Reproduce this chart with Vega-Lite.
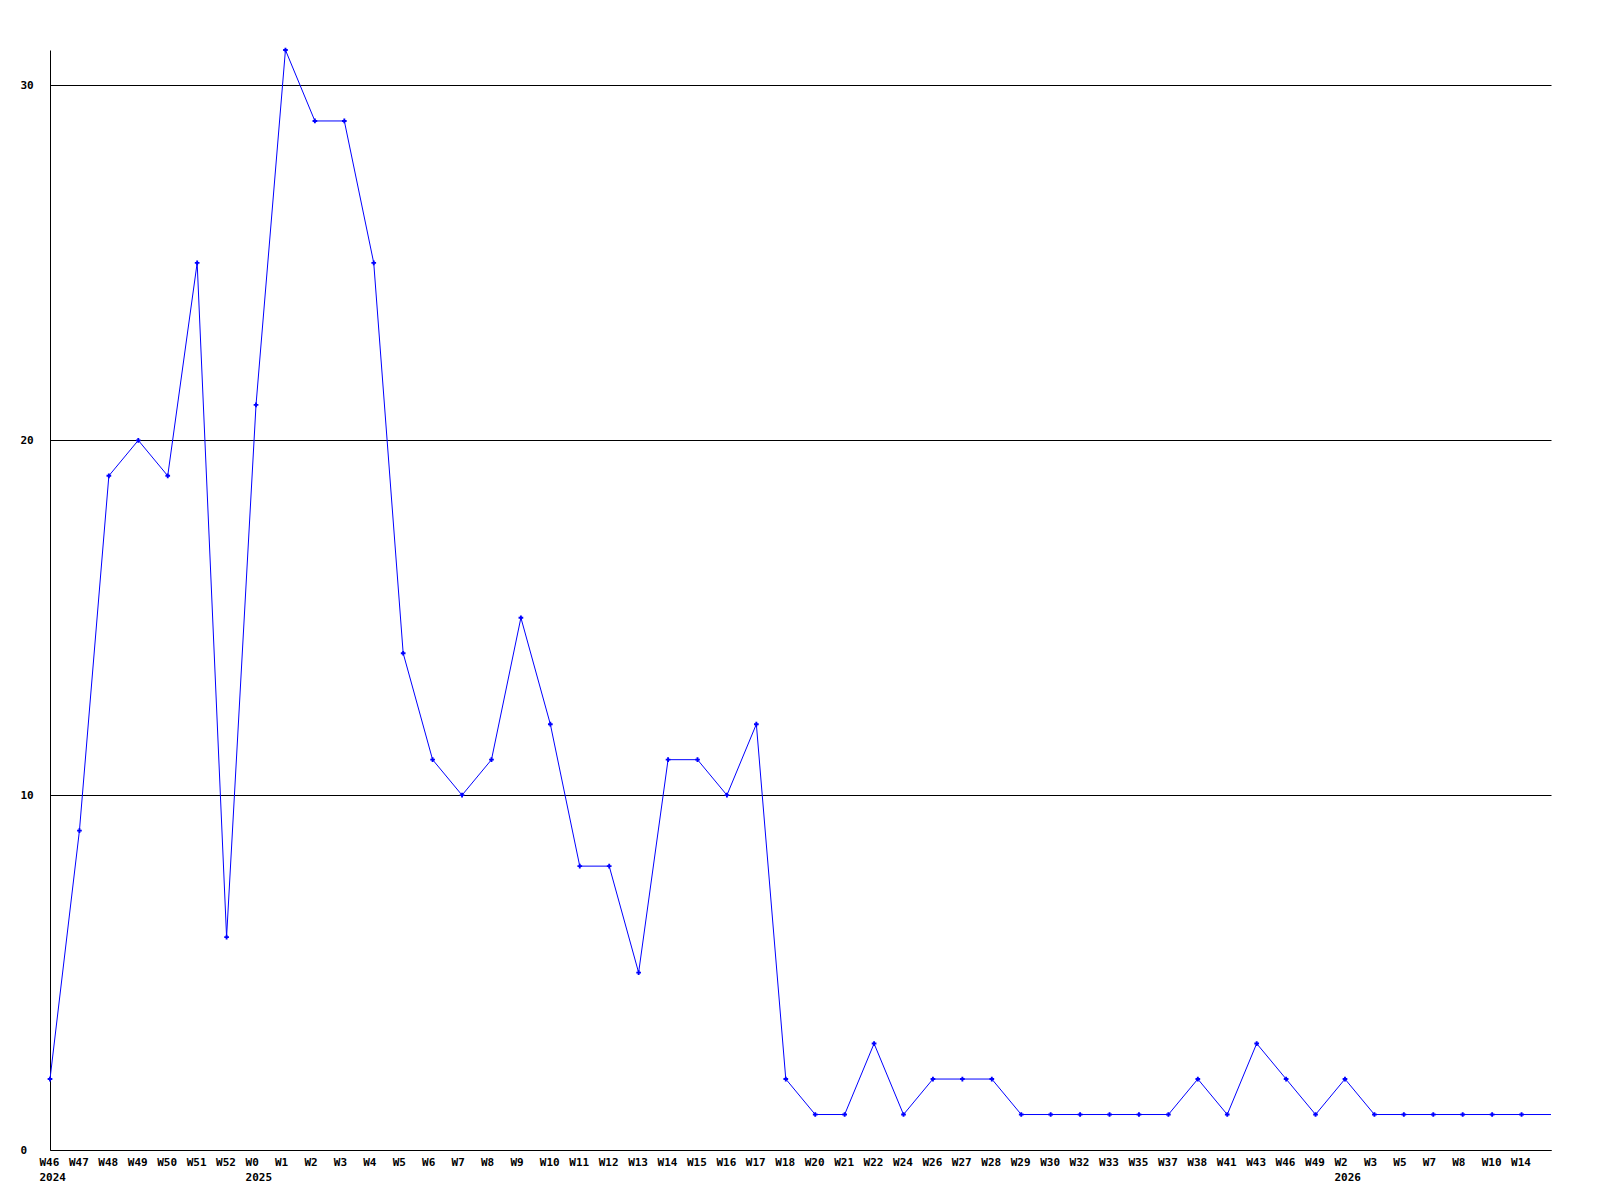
{
  "$schema": "https://vega.github.io/schema/vega-lite/v6.json",
  "width": 1501,
  "height": 1100,
  "padding": {"left": 50, "top": 50, "right": 49, "bottom": 50},
  "autosize": {"type": "none"},
  "background": "white",
  "config": {
    "view": {"stroke": null},
    "axis": {
      "labelFont": "DejaVu Sans Mono",
      "labelFontWeight": "bold",
      "labelFontSize": 11,
      "labelColor": "black",
      "domainColor": "black",
      "domainWidth": 1,
      "ticks": false,
      "tickSize": 0,
      "title": null
    }
  },
  "data": {
    "values": [
      {"i": 0, "week": "W46", "n": 2},
      {"i": 1, "week": "W47", "n": 9},
      {"i": 2, "week": "W48", "n": 19},
      {"i": 3, "week": "W49", "n": 20},
      {"i": 4, "week": "W50", "n": 19},
      {"i": 5, "week": "W51", "n": 25},
      {"i": 6, "week": "W52", "n": 6},
      {"i": 7, "week": "W0", "n": 21},
      {"i": 8, "week": "W1", "n": 31},
      {"i": 9, "week": "W2", "n": 29},
      {"i": 10, "week": "W3", "n": 29},
      {"i": 11, "week": "W4", "n": 25},
      {"i": 12, "week": "W5", "n": 14},
      {"i": 13, "week": "W6", "n": 11},
      {"i": 14, "week": "W7", "n": 10},
      {"i": 15, "week": "W8", "n": 11},
      {"i": 16, "week": "W9", "n": 15},
      {"i": 17, "week": "W10", "n": 12},
      {"i": 18, "week": "W11", "n": 8},
      {"i": 19, "week": "W12", "n": 8},
      {"i": 20, "week": "W13", "n": 5},
      {"i": 21, "week": "W14", "n": 11},
      {"i": 22, "week": "W15", "n": 11},
      {"i": 23, "week": "W16", "n": 10},
      {"i": 24, "week": "W17", "n": 12},
      {"i": 25, "week": "W18", "n": 2},
      {"i": 26, "week": "W20", "n": 1},
      {"i": 27, "week": "W21", "n": 1},
      {"i": 28, "week": "W22", "n": 3},
      {"i": 29, "week": "W24", "n": 1},
      {"i": 30, "week": "W26", "n": 2},
      {"i": 31, "week": "W27", "n": 2},
      {"i": 32, "week": "W28", "n": 2},
      {"i": 33, "week": "W29", "n": 1},
      {"i": 34, "week": "W30", "n": 1},
      {"i": 35, "week": "W32", "n": 1},
      {"i": 36, "week": "W33", "n": 1},
      {"i": 37, "week": "W35", "n": 1},
      {"i": 38, "week": "W37", "n": 1},
      {"i": 39, "week": "W38", "n": 2},
      {"i": 40, "week": "W41", "n": 1},
      {"i": 41, "week": "W43", "n": 3},
      {"i": 42, "week": "W46", "n": 2},
      {"i": 43, "week": "W49", "n": 1},
      {"i": 44, "week": "W2", "n": 2},
      {"i": 45, "week": "W3", "n": 1},
      {"i": 46, "week": "W5", "n": 1},
      {"i": 47, "week": "W7", "n": 1},
      {"i": 48, "week": "W8", "n": 1},
      {"i": 49, "week": "W10", "n": 1},
      {"i": 50, "week": "W14", "n": 1},
      {"i": 51, "week": "", "n": 1}
    ]
  },
  "encoding": {
    "x": {
      "field": "i",
      "type": "quantitative",
      "scale": {"domain": [0, 51], "nice": false, "zero": false},
      "axis": {
        "grid": false,
        "values": [0,1,2,3,4,5,6,7,8,9,10,11,12,13,14,15,16,17,18,19,20,21,22,23,24,25,26,27,28,29,30,31,32,33,34,35,36,37,38,39,40,41,42,43,44,45,46,47,48,49,50],
        "labelAlign": "left",
        "labelBaseline": "top",
        "labelPadding": 6,
        "labelOffset": -11,
        "labelLineHeight": 15,
        "labelOverlap": false,
        "labelFlush": false,
        "labelExpr": "datum.value == 0 ? ['W46', '2024'] : datum.value == 7 ? ['W0', '2025'] : datum.value == 44 ? ['W2', '2026'] : ['W46','W47','W48','W49','W50','W51','W52','W0','W1','W2','W3','W4','W5','W6','W7','W8','W9','W10','W11','W12','W13','W14','W15','W16','W17','W18','W20','W21','W22','W24','W26','W27','W28','W29','W30','W32','W33','W35','W37','W38','W41','W43','W46','W49','W2','W3','W5','W7','W8','W10','W14'][datum.value]"
      }
    },
    "y": {
      "field": "n",
      "type": "quantitative",
      "scale": {"domain": [0, 31], "nice": false},
      "axis": {
        "values": [0, 10, 20, 30],
        "grid": true,
        "gridColor": "black",
        "gridOpacity": 1,
        "gridWidth": 1,
        "labelAlign": "left",
        "labelBaseline": "middle",
        "labelPadding": 30,
        "labelFlush": false
      }
    }
  },
  "layer": [
    {
      "mark": {"type": "line", "color": "#0000ff", "strokeWidth": 1}
    },
    {
      "transform": [{"filter": "datum.i <= 50"}],
      "mark": {"type": "point", "shape": "cross", "filled": true, "color": "#0000ff", "size": 22, "opacity": 1}
    }
  ]
}
